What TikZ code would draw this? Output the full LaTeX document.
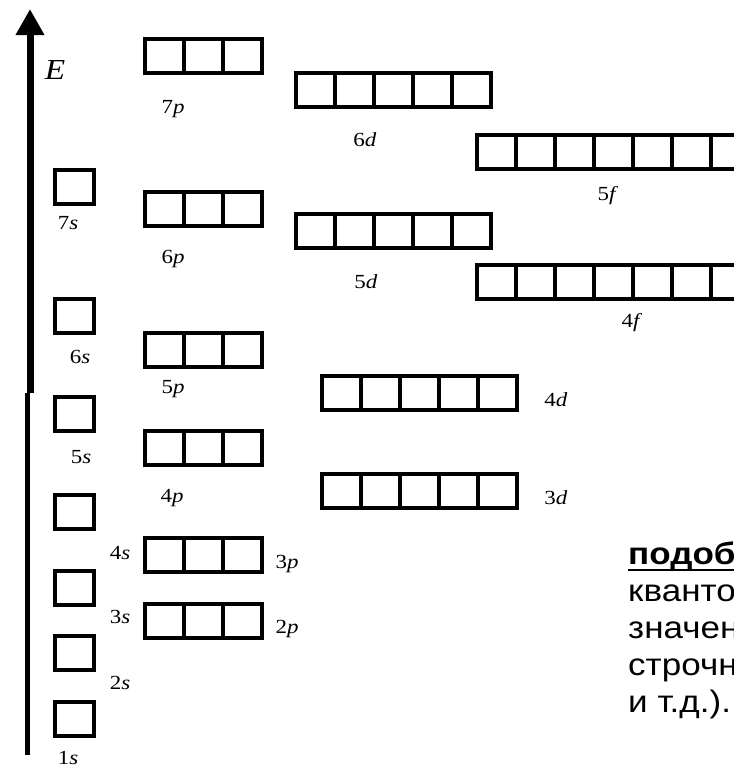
\documentclass[tikz,border=0pt]{standalone}
\usepackage{fontspec}
\setmainfont{Liberation Serif}
\newfontfamily\rusfont{Liberation Sans}
\usetikzlibrary{arrows.meta}

\tikzset{
  cella/.style={line width=3.5pt},
  orb/.style={font=\fontsize{20}{24}\selectfont, xscale=1.15, inner sep=0pt},
  testo/.style={font=\rusfont\fontsize{31}{37}\selectfont, xscale=1.13, anchor=base west, inner sep=0pt}
}

\begin{document}
\begin{tikzpicture}[x=1pt, y=-1pt]
  \useasboundingbox (0,0) rectangle (734,769);

  % asse dell'energia
  \coordinate (Ebase) at (27,755);
  \coordinate (Emid) at (30,393);
  \coordinate (Etop) at (30,9);
  \draw[line width=5pt] (Ebase) -- (Ebase |- Emid);
  \draw[line width=7pt, -{Triangle[length=26pt, width=27pt]}] (Emid) -- (Etop);
  \node[orb, font=\fontsize{29}{32}\selectfont] (E) at (55,70) {\textit{E}};

  % celle degli orbitali
  \foreach \x/\y/\n in {145/39/3, 296/73/5, 477/135/7, 55/170/1, 145/192/3,
      296/214/5, 477/265/7, 55/299/1, 145/333/3, 322/376/5, 55/397/1,
      145/431/3, 322/474/5, 55/495/1, 145/538/3, 55/571/1, 145/604/3,
      55/636/1, 55/702/1}{
    \foreach \i in {1,...,\n}
      \draw[cella] ({\x+39*(\i-1)},\y) rectangle ++(39,34);
  }

  % etichette
  \foreach \n/\l/\x/\y in {7/p/173/109, 6/d/365/140, 5/f/608/196, 7/s/68/223,
      6/p/173/259, 5/d/366/282, 4/f/632/323, 6/s/80/357, 5/p/173/389,
      4/d/556/400, 5/s/81/457, 4/p/172/498, 3/d/556/498, 4/s/120/553,
      3/p/287/564, 3/s/120/617, 2/p/287/629, 2/s/120/683, 1/s/68/758}{
    \node[orb] (o\n\l) at (\x,\y) {\n\textit{\l}};
  }

  % testo a destra
  \node[testo] (riga1) at (628,564) {\textbf{подоб}};
  \draw[line width=2.5pt] ([yshift=-6pt]riga1.base west) -- ([yshift=-6pt]riga1.base east);
  \foreach \r/\t in {2/кванто, 3/значен, 4/строчн, 5/и т.д.).}{
    \node[testo] (riga\r) at (628,{564+37*(\r-1)}) {\t};
  }
\end{tikzpicture}
\end{document}
